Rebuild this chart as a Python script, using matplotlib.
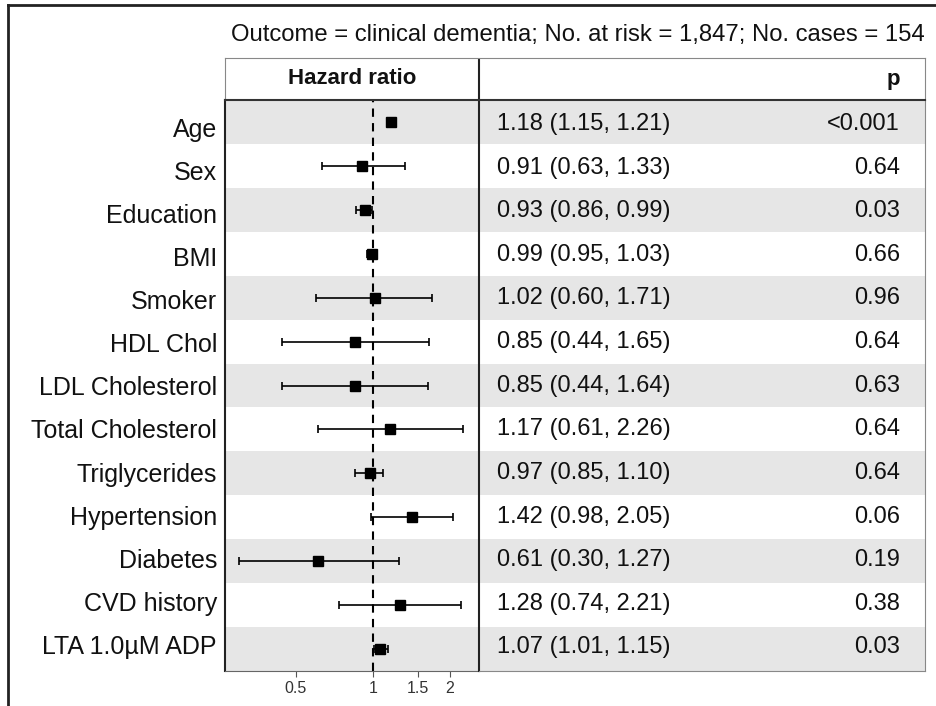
import matplotlib.pyplot as plt
from matplotlib.lines import Line2D
from matplotlib.transforms import offset_copy
import numpy as np

plt.rcParams['font.family'] = ['Liberation Sans', 'DejaVu Sans']

labels = ['Age', 'Sex', 'Education', 'BMI', 'Smoker', 'HDL Chol', 'LDL Cholesterol',
          'Total Cholesterol', 'Triglycerides', 'Hypertension', 'Diabetes',
          'CVD history', 'LTA 1.0\u00b5M ADP']
hr = [1.18, 0.91, 0.93, 0.99, 1.02, 0.85, 0.85, 1.17, 0.97, 1.42, 0.61, 1.28, 1.07]
lower = [1.15, 0.63, 0.86, 0.95, 0.60, 0.44, 0.44, 0.61, 0.85, 0.98, 0.30, 0.74, 1.01]
upper = [1.21, 1.33, 0.99, 1.03, 1.71, 1.65, 1.64, 2.26, 1.10, 2.05, 1.27, 2.21, 1.15]
pvals = ['<0.001', '0.64', '0.03', '0.66', '0.96', '0.64', '0.63', '0.64', '0.64',
         '0.06', '0.19', '0.38', '0.03']
xticks = [0.5, 1, 1.5, 2]
xtick_labels = ['0.5', '1', '1.5', '2']
title = 'Outcome = clinical dementia; No. at risk = 1,847; No. cases = 154'

W, H = 936, 706
fig = plt.figure(figsize=(W / 100, H / 100), dpi=100)

def box(x0, y0, x1, y1):
    # pixel box (top-left origin) -> figure fraction rect
    return [x0 / W, 1 - y1 / H, (x1 - x0) / W, (y1 - y0) / H]

n = len(labels)
y = np.arange(n)
stripe = '#e6e6e6'
fs = 17

# forest plot column
ax = fig.add_axes(box(225, 100, 479, 671))
ax.set_xscale('log')
ax.set_xlim(0.264, 2.6)
ax.set_ylim(n - 0.5, -0.5)
for i in range(n):
    if i % 2 == 0:
        ax.axhspan(i - 0.5, i + 0.5, color=stripe, lw=0, zorder=0)
ax.axvline(1, color='black', ls=(0, (4, 3)), lw=1.5, zorder=1)
err = [np.array(hr) - np.array(lower), np.array(upper) - np.array(hr)]
ax.errorbar(hr, y, xerr=err, fmt='s', color='black', ms=6.5, lw=1.2,
            capsize=3, capthick=1.2, zorder=3)
ax.set_xticks(xticks)
ax.set_xticklabels(xtick_labels, fontsize=11.5, color='#333333')
ax.xaxis.set_minor_locator(plt.NullLocator())
ax.tick_params(axis='x', length=4, color='#555555', pad=3)
ax.set_yticks([])
# row labels are spaced a touch tighter than the table rows in the original
for i in range(n):
    tr = offset_copy(ax.get_yaxis_transform(), fig=fig, x=-8, y=-(8 - 0.85 * i),
                     units='dots')
    ax.text(0, i, labels[i], transform=tr, fontsize=18, ha='right',
            va='center', color='#111111')
for s in ['top', 'right']:
    ax.spines[s].set_visible(False)
ax.spines['left'].set_color('#222222')
ax.spines['bottom'].set_color('#666666')
ax.spines['left'].set_linewidth(1.5)

# estimate / p column
ax2 = fig.add_axes(box(479, 100, 925, 671))
ax2.set_xlim(0, 1)
ax2.set_ylim(n - 0.5, -0.5)
for i in range(n):
    if i % 2 == 0:
        ax2.axhspan(i - 0.5, i + 0.5, color=stripe, lw=0, zorder=0)
    tr = offset_copy(ax2.transData, fig=fig, x=0, y=-(2 - 0.3 * i), units='dots')
    ax2.text(18 / 446, i, f'{hr[i]:.2f} ({lower[i]:.2f}, {upper[i]:.2f})',
             transform=tr, fontsize=fs, va='center', ha='left', color='#111111')
    ax2.text(421 / 446, i, pvals[i], transform=tr, fontsize=fs, va='center',
             ha='right', color='#111111')
ax2.set_xticks([])
ax2.set_yticks([])
ax2.spines['top'].set_visible(False)
ax2.spines['left'].set_color('#222222')
ax2.spines['left'].set_linewidth(1.5)
ax2.spines['right'].set_color('#888888')
ax2.spines['bottom'].set_color('#888888')

# header row
hx = fig.add_axes(box(225, 58, 925, 100))
hx.set_xlim(225, 925)
hx.set_ylim(0, 1)
hx.set_xticks([])
hx.set_yticks([])
for s in ['top', 'left', 'right']:
    hx.spines[s].set_color('#888888')
hx.spines['bottom'].set_color('#333333')
hx.spines['bottom'].set_linewidth(1.5)
hx.axvline(479, color='#222222', lw=1.5)
hx.text(352, 0.5, 'Hazard ratio', fontsize=fs - 1, fontweight='bold',
        ha='center', va='center', color='#111111')
hx.text(900, 0.5, 'p', fontsize=fs - 1, fontweight='bold', ha='right',
        va='center', color='#111111')

fig.text(925 / W, 1 - 35 / H, title, fontsize=17.2, ha='right', va='center',
         color='#111111')

# outer frame lines
fig.add_artist(Line2D([8 / W, 1], [1 - 5 / H, 1 - 5 / H], color='#222222', lw=2))
fig.add_artist(Line2D([8 / W, 8 / W], [0, 1 - 5 / H], color='#222222', lw=2))

fig.savefig('out.png', dpi=100)
